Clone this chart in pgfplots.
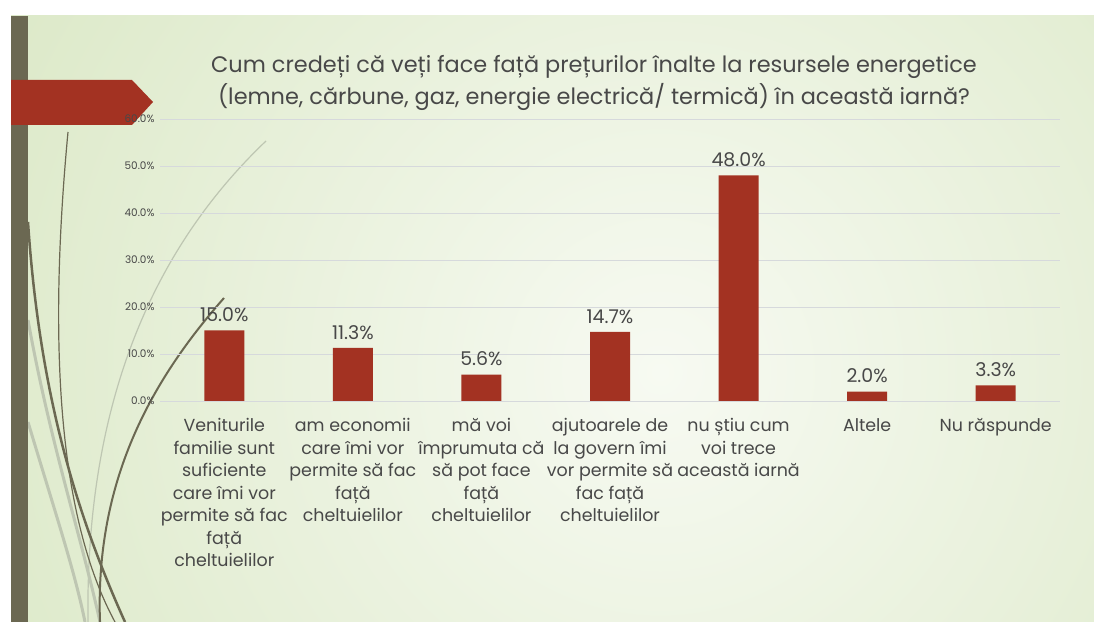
\documentclass[border=0pt]{standalone}
\usepackage{pgfplots}
\pgfplotsset{compat=1.18}
\usepackage{fontspec}
\setmainfont{Poppins}
\definecolor{barred}{RGB}{163,50,34}
\definecolor{olive}{RGB}{107,104,82}
\definecolor{lightcurve}{RGB}{190,198,178}
\definecolor{bgouter}{RGB}{206,224,178}
\definecolor{bginner}{RGB}{247,250,242}
\definecolor{gridc}{RGB}{214,217,220}
\definecolor{txt}{RGB}{72,72,72}
\begin{document}
\begin{tikzpicture}[x=1bp,y=1bp]
% page
\fill[white] (0,0) rectangle (1094,622);
\begin{scope}
\clip (11,0) rectangle (1094,606);
\shade[inner color=bginner, outer color=bgouter] (660,250) circle (1150);
% decorative curves
\draw[lightcurve, line width=3bp] (28,302) .. controls (50,180) and (80,90) .. (100,0);
\draw[lightcurve, line width=3bp] (28,200) .. controls (55,110) and (75,50) .. (85,0);
\draw[lightcurve, line width=1.2bp] (266,481) .. controls (160,380) and (85,230) .. (88,0);
\draw[olive, line width=1.2bp] (68,490) .. controls (52,320) and (50,120) .. (115,0);
\draw[olive, line width=2.5bp] (28,400) .. controls (40,220) and (80,100) .. (125,0);
\draw[olive, line width=2bp] (224,324) .. controls (150,240) and (95,140) .. (100,0);
\end{scope}
\fill[olive] (11,0) rectangle (28,606);
\fill[barred] (11,542) -- (132,542) -- (153,520) -- (132,497) -- (11,497) -- cycle;
% title
\node[font=\fontsize{22.5}{27}\selectfont, text=txt, align=center] at (594,539)
  {Cum credeți că veți face față prețurilor înalte la resursele energetice\\[3bp]
   (lemne, cărbune, gaz, energie electrică/ termică) în această iarnă?};
\begin{axis}[
  at={(160bp,221bp)}, anchor=south west,
  scale only axis, width=900bp, height=282bp,
  xmin=-0.5, xmax=6.5, ymin=0, ymax=60,
  axis line style={draw=none},
  major tick length=0pt,
  ymajorgrids, grid style={gridc, line width=0.8bp},
  ytick={0,10,...,60},
  /pgf/number format/assume math mode=true,
  yticklabel={\pgfmathprintnumber[fixed,fixed zerofill,precision=1]{\tick}\%},
  yticklabel style={font=\fontsize{10.5}{12}\selectfont, text=txt, xshift=-2bp},
  xtick={0,...,6},
  xticklabels={
    {Veniturile\\familie sunt\\suficiente\\care îmi vor\\permite să fac\\față\\cheltuielilor},
    {am economii\\care îmi vor\\permite să fac\\față\\cheltuielilor},
    {mă voi\\împrumuta că\\să pot face\\față\\cheltuielilor},
    {ajutoarele de\\la govern îmi\\vor permite să\\fac față\\cheltuielilor},
    {nu știu cum\\voi trece\\această iarnă},
    {Altele},
    {Nu răspunde}},
  xticklabel style={font=\fontsize{17.5}{22.6}\selectfont, text=txt, align=center, anchor=north, yshift=-14bp},
  ybar, bar width=40bp,
  nodes near coords={\pgfmathprintnumber[fixed,fixed zerofill,precision=1]{\pgfplotspointmeta}\%},
  nodes near coords style={font=\fontsize{19}{21}\selectfont, text=txt, yshift=5bp},
  clip=false,
]
\addplot[fill=barred, draw=none] coordinates {(0,15.0) (1,11.3) (2,5.6) (3,14.7) (4,48.0) (5,2.0) (6,3.3)};
\end{axis}
\end{tikzpicture}
\end{document}
